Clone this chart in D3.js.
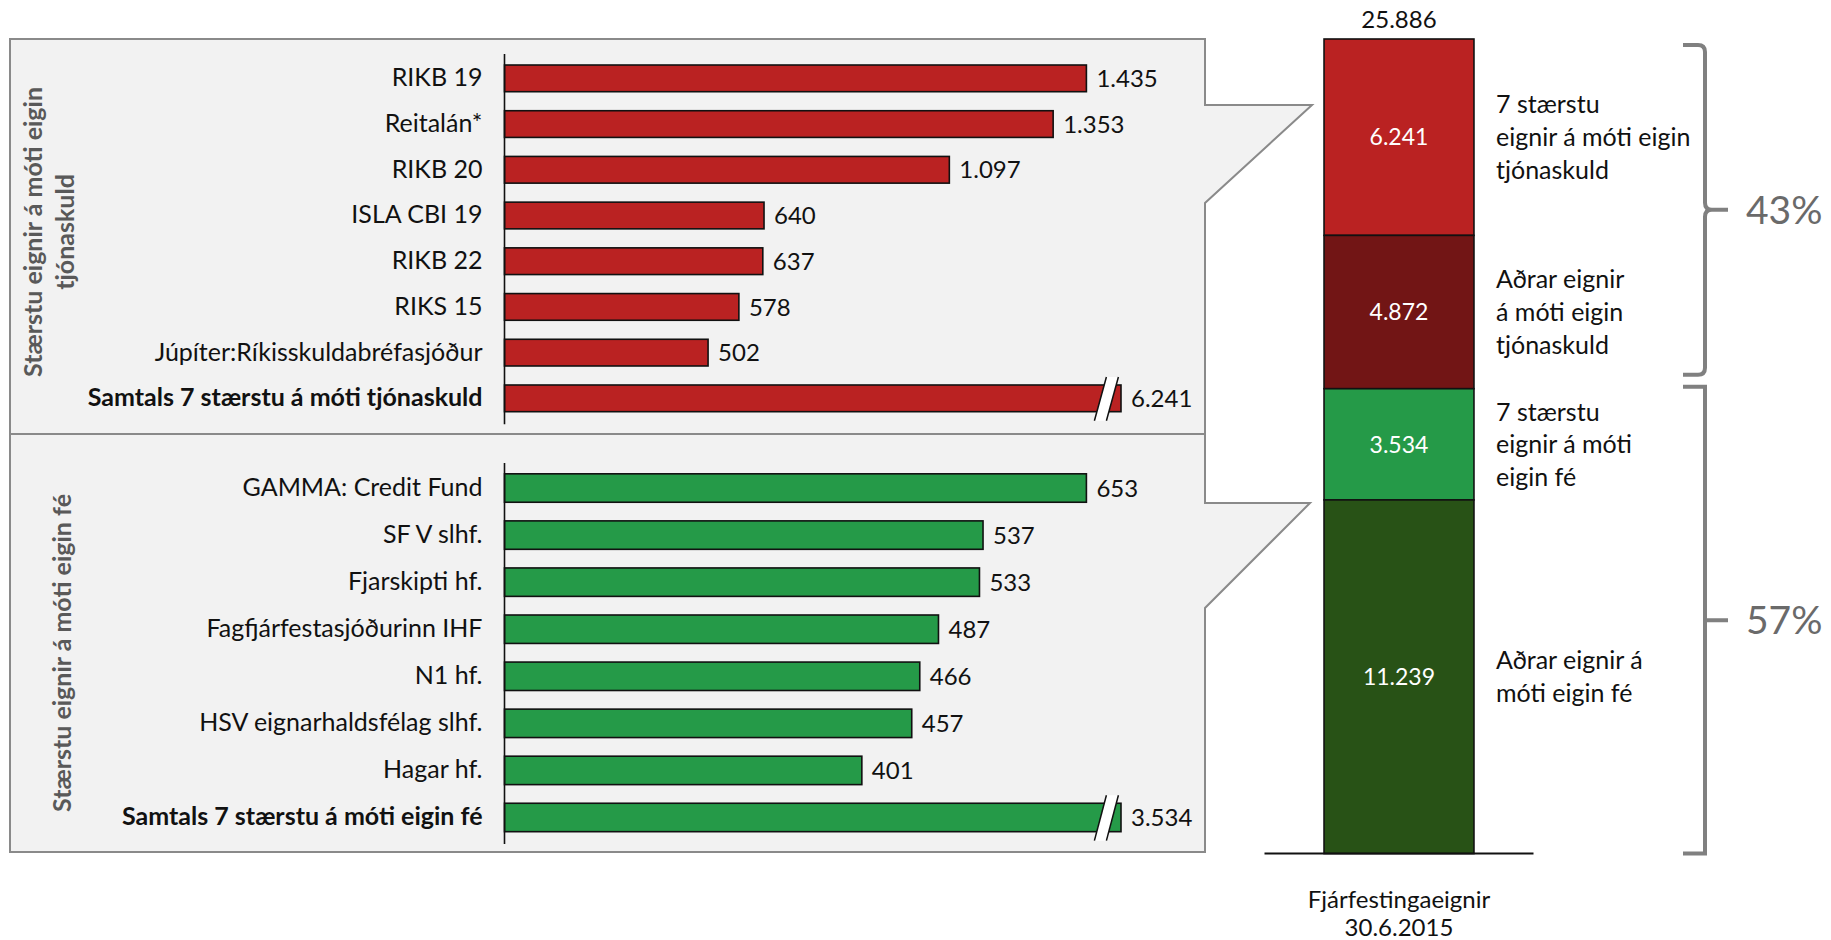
<!DOCTYPE html>
<html>
<head>
<meta charset="utf-8">
<script src="https://cdn.jsdelivr.net/npm/d3@7"></script>
<style>
  html, body { margin: 0; padding: 0; background: #fff; }
  svg { display: block; font-family: Lato, "Noto Sans", sans-serif; }
</style>
</head>
<body>
<svg id="chart" width="1831" height="940"></svg>
<script>
// ---------------- DATA ----------------
const topCategories = ["RIKB 19", "Reitalán*", "RIKB 20", "ISLA CBI 19", "RIKB 22", "RIKS 15",
  "Júpíter:Ríkisskuldabréfasjóður", "Samtals 7 stærstu á móti tjónaskuld"];
const topValues = [1435, 1353, 1097, 640, 637, 578, 502, 6241];

const bottomCategories = ["GAMMA: Credit Fund", "SF V slhf.", "Fjarskipti hf.", "Fagfjárfestasjóðurinn IHF",
  "N1 hf.", "HSV eignarhaldsfélag slhf.", "Hagar hf.", "Samtals 7 stærstu á móti eigin fé"];
const bottomValues = [653, 537, 533, 487, 466, 457, 401, 3534];

const topTitle = ["Stærstu eignir á móti eigin", "tjónaskuld"];
const bottomTitle = ["Stærstu eignir á móti eigin fé"];

const stackCategory = ["Fjárfestingaeignir", "30.6.2015"];
const stackLabels = [
  ["7 stærstu", "eignir á móti eigin", "tjónaskuld"],
  ["Aðrar eignir", "á móti eigin", "tjónaskuld"],
  ["7 stærstu", "eignir á móti", "eigin fé"],
  ["Aðrar eignir á", "móti eigin fé"]
];
const stackValues = [6241, 4872, 3534, 11239];
const stackTotal = 25886;
const groupLabels = ["43%", "57%"];
const groupSegments = [[0, 1], [2, 3]];

// ---------------- STYLE ----------------
const red = "#BA2222", darkRed = "#721515", green = "#259A48", darkGreen = "#285216";
const stackColors = [red, darkRed, green, darkGreen];
const panelFill = "#F2F2F2", panelStroke = "#8A8A8A";
const fmt = d3.formatLocale({ decimal: ",", thousands: ".", grouping: [3], currency: ["", ""] }).format(",d");

const svg = d3.select("#chart");

// ---------------- PANELS (callout shapes) ----------------
const panelL = 10, panelR = 1205;
const topPanel = [[panelL, 39], [panelR, 39], [panelR, 105], [1312, 105], [panelR, 203], [panelR, 434], [panelL, 434]];
const botPanel = [[panelL, 434], [panelR, 434], [panelR, 503], [1310, 503], [panelR, 608], [panelR, 852], [panelL, 852]];
[topPanel, botPanel].forEach(p => {
  svg.append("path")
    .attr("d", d3.line()(p) + "Z")
    .attr("fill", panelFill)
    .attr("stroke", panelStroke)
    .attr("stroke-width", 2)
    .attr("stroke-linejoin", "miter");
});

// ---------------- BAR PANELS ----------------
function barPanel(cfg) {
  const { cats, vals, color, yRange, pad, title, titleX, titleY } = cfg;
  const axisX = 504.5, maxX = 1086.4, breakExtra = 34.6;
  const items = vals.slice(0, vals.length - 1);
  const x = d3.scaleLinear().domain([0, d3.max(items)]).range([axisX, maxX]);
  const y = d3.scaleBand().domain(cats).range(yRange).paddingInner(pad).paddingOuter(pad / 2);
  const g = svg.append("g");
  const data = cats.map((c, i) => ({ c, v: vals[i], total: i === cats.length - 1 }));

  g.selectAll("rect.bar").data(data).join("rect")
    .attr("class", "bar")
    .attr("x", axisX)
    .attr("y", d => y(d.c))
    .attr("width", d => d.total ? (maxX + breakExtra - axisX) : x(d.v) - axisX)
    .attr("height", y.bandwidth())
    .attr("fill", color)
    .attr("stroke", "#111")
    .attr("stroke-width", 1.6);

  // axis break on total bar
  const tot = data[data.length - 1];
  const by0 = y(tot.c) - 8, by1 = y(tot.c) + y.bandwidth() + 9;
  const bx = maxX + 8, slant = 12, gap = 12;
  g.append("path")
    .attr("d", d3.line()([[bx, by1], [bx + slant, by0], [bx + slant + gap, by0], [bx + gap, by1]]) + "Z")
    .attr("fill", "#fff");
  [0, gap].forEach(o => {
    g.append("line")
      .attr("x1", bx + o).attr("y1", by1).attr("x2", bx + slant + o).attr("y2", by0)
      .attr("stroke", "#111").attr("stroke-width", 1.5);
  });

  // value labels
  g.selectAll("text.val").data(data).join("text")
    .attr("class", "val")
    .attr("x", d => (d.total ? maxX + breakExtra : x(d.v)) + 10)
    .attr("y", d => y(d.c) + y.bandwidth() / 2)
    .attr("dy", "0.36em")
    .attr("font-size", 24)
    .attr("fill", "#111")
    .text(d => fmt(d.v));

  // category axis
  const ax = g.append("g")
    .attr("transform", `translate(${axisX},0)`)
    .call(d3.axisLeft(y).tickSize(0).tickSizeOuter(0).tickPadding(22));
  ax.select(".domain").attr("stroke", "#111").attr("stroke-width", 1.6)
    .attr("d", `M0,${yRange[0] - 1.5}V${yRange[1] + 3}`);
  ax.selectAll(".tick text")
    .attr("font-size", 25)
    .attr("font-family", "Lato, 'Noto Sans', sans-serif")
    .attr("fill", "#111")
    .attr("font-weight", (d, i) => i === cats.length - 1 ? 700 : 400);

  // vertical title
  const t = g.append("text")
    .attr("transform", `translate(${titleX},${titleY}) rotate(-90)`)
    .attr("text-anchor", "middle")
    .attr("font-size", 25)
    .attr("font-weight", 700)
    .attr("fill", "#595959");
  title.forEach((line, i) => {
    t.append("tspan")
      .attr("x", 0)
      .attr("dy", i === 0 ? `${0.36 - (title.length - 1) * 0.63}em` : "1.27em")
      .text(line);
  });
}

barPanel({ cats: topCategories, vals: topValues, color: red, yRange: [55.5, 421.2], pad: 0.416,
  title: topTitle, titleX: 48.5, titleY: 232 });
barPanel({ cats: bottomCategories, vals: bottomValues, color: green, yRange: [464.5, 841], pad: 0.396,
  title: bottomTitle, titleX: 62, titleY: 653 });

// ---------------- STACKED COLUMN ----------------
const ys = d3.scaleLinear().domain([0, stackTotal]).range([853.6, 39]);
const cat = stackCategory.join(" ");
const xs = d3.scaleBand().domain([cat]).range([1264.5, 1533.5]).paddingInner(0).paddingOuter(0.397);
let cum = stackTotal;
const segs = stackValues.map((v, i) => {
  const top = cum; cum -= v;
  return { v, i, y0: top, y1: cum };
});

svg.selectAll("rect.seg").data(segs).join("rect")
  .attr("class", "seg")
  .attr("x", xs(cat))
  .attr("width", xs.bandwidth())
  .attr("y", d => ys(d.y0))
  .attr("height", d => ys(d.y1) - ys(d.y0))
  .attr("fill", d => stackColors[d.i])
  .attr("stroke", "#111")
  .attr("stroke-width", 1.6);

svg.selectAll("text.segval").data(segs).join("text")
  .attr("class", "segval")
  .attr("x", xs(cat) + xs.bandwidth() / 2)
  .attr("y", d => (ys(d.y0) + ys(d.y1)) / 2)
  .attr("dy", "0.36em")
  .attr("text-anchor", "middle")
  .attr("font-size", 23)
  .attr("fill", "#fff")
  .text(d => fmt(d.v));

// total label
svg.append("text")
  .attr("x", xs(cat) + xs.bandwidth() / 2)
  .attr("y", ys(stackTotal) - 20)
  .attr("dy", "0.36em")
  .attr("text-anchor", "middle")
  .attr("font-size", 24)
  .attr("fill", "#111")
  .text(fmt(stackTotal));

// baseline
svg.append("line")
  .attr("x1", xs.range()[0]).attr("x2", xs.range()[1])
  .attr("y1", ys(0)).attr("y2", ys(0))
  .attr("stroke", "#111").attr("stroke-width", 2);

// category label below
const catText = svg.append("text")
  .attr("x", xs(cat) + xs.bandwidth() / 2)
  .attr("y", ys(0) + 46)
  .attr("text-anchor", "middle")
  .attr("font-size", 24)
  .attr("fill", "#111");
stackCategory.forEach((l, i) => catText.append("tspan")
  .attr("x", xs(cat) + xs.bandwidth() / 2).attr("dy", i === 0 ? "0.36em" : "1.17em").text(l));

// segment descriptions
const lblX = 1496, lineH = 32.7;
segs.forEach(s => {
  const lines = stackLabels[s.i];
  const cy = (ys(s.y0) + ys(s.y1)) / 2;
  const t = svg.append("text")
    .attr("x", lblX)
    .attr("font-size", 25)
    .attr("fill", "#111");
  lines.forEach((l, j) => t.append("tspan")
    .attr("x", lblX)
    .attr("y", cy + (j - (lines.length - 1) / 2) * lineH)
    .attr("dy", "0.36em")
    .text(l));
});

// ---------------- BRACES ----------------
const braceX0 = 1683, braceXV = 1705, braceXT = 1728;
const braceCfg = [{ pad0: 6, pad1: -14, curly: true }, { pad0: -2, pad1: 0, curly: false }];
groupSegments.forEach((gs, k) => {
  const yA = ys(segs[gs[0]].y0) + braceCfg[k].pad0;
  const yB = ys(segs[gs[gs.length - 1]].y1) + braceCfg[k].pad1;
  const ym = (yA + yB) / 2;
  let d;
  if (braceCfg[k].curly) {
    const r = 7;
    d = `M${braceX0},${yA} L${braceXV - r},${yA} Q${braceXV},${yA} ${braceXV},${yA + r}` +
        ` L${braceXV},${ym - r} Q${braceXV},${ym} ${braceXV + r},${ym} L${braceXT},${ym}` +
        ` M${braceXV + r},${ym} Q${braceXV},${ym} ${braceXV},${ym + r}` +
        ` L${braceXV},${yB - r} Q${braceXV},${yB} ${braceXV - r},${yB} L${braceX0},${yB}`;
  } else {
    d = `M${braceX0},${yA} L${braceXV},${yA} L${braceXV},${yB} L${braceX0},${yB} M${braceXV},${ym} L${braceXT},${ym}`;
  }
  svg.append("path")
    .attr("d", d)
    .attr("fill", "none")
    .attr("stroke", "#808080")
    .attr("stroke-width", 4);
  svg.append("text")
    .attr("x", 1746)
    .attr("y", ym)
    .attr("dy", "0.36em")
    .attr("font-size", 39)
    .attr("fill", "#6A6A6A")
    .text(groupLabels[k]);
});
</script>
</body>
</html>
